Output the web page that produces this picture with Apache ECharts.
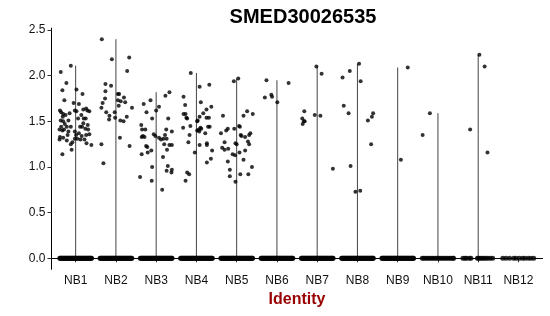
<!DOCTYPE html>
<html>
<head>
<meta charset="utf-8">
<script src="https://cdn.jsdelivr.net/npm/echarts@6/dist/echarts.min.js"></script>
<style>html,body{margin:0;padding:0;background:#fff}#c{width:550px;height:316px}</style>
</head>
<body>
<div id="c"></div>
<script>
const categories = ['NB1','NB2','NB3','NB4','NB5','NB6','NB7','NB8','NB9','NB10','NB11','NB12'];
const yTicks = [0, 0.5, 1.0, 1.5, 2.0, 2.5];

// nonzero expression points per group: [jitter offset, value]
const nb1 = [[-0.12,2.11],[-0.37,2.04],[-0.23,1.92],[-0.33,1.84],[0.02,1.85],[0.17,1.80],[-0.28,1.73],[-0.05,1.70],[0.08,1.69],[-0.39,1.62],[-0.36,1.60],[-0.31,1.58],[-0.25,1.57],[-0.32,1.55],[-0.02,1.62],[0.02,1.61],[0.19,1.63],[0.26,1.64],[0.29,1.62],[0.34,1.61],[0.14,1.57],[0.20,1.53],[0.25,1.53],[0.06,1.53],[-0.37,1.51],[-0.31,1.50],[-0.18,1.51],[-0.36,1.44],[-0.29,1.41],[-0.22,1.44],[-0.40,1.41],[-0.33,1.40],[-0.12,1.44],[-0.18,1.39],[-0.02,1.39],[0.11,1.44],[0.16,1.44],[0.24,1.42],[0.31,1.41],[0.30,1.46],[0.01,1.35],[0.08,1.37],[0.15,1.34],[0.26,1.35],[0.34,1.36],[-0.39,1.33],[-0.40,1.30],[-0.31,1.32],[-0.20,1.35],[-0.22,1.29],[0.04,1.31],[0.12,1.30],[-0.12,1.25],[-0.08,1.27],[0.22,1.30],[0.27,1.26],[0.39,1.24],[-0.33,1.14],[-0.10,1.19],[-0.02,1.31],[-0.15,1.59],[-0.27,1.47],[0.19,1.48]];
const nb2 = [[-0.35,2.40],[-0.10,2.18],[0.33,2.20],[0.28,2.05],[-0.26,1.91],[-0.12,1.89],[-0.26,1.83],[-0.27,1.75],[0.05,1.80],[0.08,1.80],[0.20,1.76],[0.05,1.73],[0.12,1.72],[0.23,1.71],[-0.33,1.70],[-0.36,1.65],[0.40,1.65],[-0.24,1.60],[-0.03,1.60],[0.07,1.67],[-0.16,1.56],[-0.17,1.52],[-0.02,1.54],[0.11,1.51],[0.19,1.50],[0.27,1.55],[0.10,1.32],[0.34,1.23],[-0.36,1.25],[-0.31,1.04]];
const nb3 = [[0.33,1.82],[0.23,1.78],[-0.14,1.73],[-0.31,1.69],[0.07,1.66],[-0.24,1.60],[0.00,1.62],[-0.10,1.53],[0.30,1.53],[-0.37,1.46],[-0.35,1.41],[-0.27,1.41],[-0.33,1.34],[-0.29,1.33],[-0.36,1.33],[-0.06,1.36],[-0.02,1.34],[0.25,1.41],[0.39,1.39],[0.22,1.35],[0.07,1.32],[0.12,1.30],[0.18,1.31],[0.26,1.31],[-0.22,1.22],[-0.25,1.23],[-0.36,1.14],[-0.21,1.16],[-0.12,1.18],[0.20,1.25],[0.27,1.19],[0.33,1.24],[0.39,1.24],[0.17,1.11],[0.29,1.01],[0.39,0.97],[0.38,0.94],[-0.10,1.00],[-0.40,0.89],[-0.11,0.85],[0.15,0.75],[0.26,0.96]];
const nb4 = [[-0.14,2.03],[0.08,1.88],[0.32,1.90],[-0.32,1.77],[0.11,1.71],[-0.28,1.68],[0.37,1.66],[0.25,1.63],[-0.32,1.58],[-0.27,1.58],[-0.23,1.53],[-0.25,1.54],[0.17,1.59],[0.08,1.55],[0.03,1.51],[0.02,1.50],[0.25,1.54],[0.31,1.54],[-0.33,1.43],[-0.15,1.45],[0.10,1.43],[0.12,1.42],[0.06,1.41],[0.02,1.40],[0.07,1.39],[0.29,1.44],[0.33,1.44],[0.22,1.37],[-0.17,1.35],[-0.20,1.27],[0.39,1.18],[0.26,1.24],[0.26,1.26],[0.08,1.24],[-0.04,1.16],[0.36,1.09],[0.26,1.05],[-0.23,0.94],[-0.18,0.92],[-0.27,0.85]];
const nb5 = [[-0.07,1.94],[0.04,1.97],[-0.34,1.56],[0.17,1.56],[0.26,1.61],[0.40,1.58],[-0.39,1.37],[-0.26,1.40],[-0.22,1.42],[-0.06,1.42],[0.06,1.45],[0.08,1.44],[-0.30,1.27],[-0.36,1.21],[-0.30,1.19],[-0.21,1.20],[-0.03,1.26],[0.00,1.25],[0.10,1.35],[0.12,1.34],[0.21,1.33],[0.28,1.28],[0.31,1.25],[0.34,1.37],[0.31,1.35],[0.21,1.18],[0.07,1.16],[-0.10,1.14],[-0.04,1.13],[-0.22,1.06],[0.17,1.08],[0.38,1.00],[-0.17,0.97],[-0.17,0.90],[0.09,0.92],[0.29,0.92],[-0.03,0.84]];
const nb6 = [[-0.26,1.95],[-0.30,1.76],[-0.14,1.79],[-0.12,1.77],[0.01,1.71],[0.29,1.92]];
const nb7 = [[-0.02,2.10],[0.11,2.02],[-0.32,1.61],[-0.37,1.53],[-0.33,1.50],[-0.36,1.47],[-0.31,1.50],[-0.06,1.57],[0.08,1.56],[0.39,0.98]];
const nb8 = [[0.04,2.13],[-0.19,2.05],[-0.37,1.98],[0.08,1.94],[-0.34,1.67],[-0.22,1.59],[0.39,1.59],[0.36,1.55],[0.26,1.51],[0.34,1.25],[-0.17,1.01],[-0.05,0.73],[0.07,0.74]];
const nb9 = [[0.25,2.09],[0.08,1.08]];
const nb10 = [[-0.20,1.59],[-0.38,1.35]];
const nb11 = [[0.03,2.23],[0.16,2.10],[-0.20,1.41],[0.23,1.16]];
const nb12 = [];
const nonzero = [nb1,nb2,nb3,nb4,nb5,nb6,nb7,nb8,nb9,nb10,nb11,nb12];

// jitter offsets of the cells with zero expression
const zeroDense = [-0.395,-0.38,-0.362,-0.351,-0.33,-0.318,-0.297,-0.284,-0.27,-0.248,-0.236,-0.221,-0.2,-0.188,-0.169,-0.152,-0.139,-0.118,-0.104,-0.091,-0.073,-0.058,-0.037,-0.024,-0.009,0.012,0.027,0.041,0.063,0.076,0.094,0.108,0.127,0.141,0.158,0.176,0.19,0.207,0.223,0.242,0.256,0.271,0.29,0.304,0.323,0.337,0.352,0.371,0.385,0.396];
const zeroNB10 = [-0.39,-0.35,-0.31,-0.26,-0.22,-0.17,-0.13,-0.08,-0.04,0.01,0.05,0.1,0.14,0.19,0.23,0.28,0.32,0.37,0.39];
const zeroNB11 = [-0.38,-0.33,-0.29,-0.22,-0.18,-0.02,0.01,0.05,0.1,0.14,0.19,0.24,0.3,0.36];
const zeroNB12 = [-0.39,-0.31,-0.22,-0.12,-0.06,0.02,0.1,0.16,0.24,0.31,0.38];
const zeroOffsets = [zeroDense,zeroDense,zeroDense,zeroDense,zeroDense,zeroDense,zeroDense,zeroDense,zeroDense,zeroNB10,zeroNB11,zeroNB12];

const FONT = 'Liberation Sans, Arial, sans-serif';

const pts = [];
nonzero.forEach((g, i) => g.forEach(p => pts.push([i + 1 + p[0], p[1]])));
const zeros = [];
zeroOffsets.forEach((g, i) => g.forEach(o => zeros.push([i + 1 + o, 0])));

const violinSeries = nonzero.map((g, i) => {
  if (!g.length) return null;
  const mx = Math.max(...g.map(p => p[1]));
  return {
    type: 'line', data: [[i + 1, 0], [i + 1, mx]], symbol: 'none', silent: true,
    lineStyle: { color: '#444', width: 1 }, z: 1, animation: false
  };
}).filter(Boolean);

const chart = echarts.init(document.getElementById('c'), null, { renderer: 'canvas' });
chart.setOption({
  animation: false,
  backgroundColor: '#fff',
  title: {
    text: 'SMED30026535', left: 298, top: 2, textAlign: 'center',
    textStyle: { fontFamily: FONT, fontWeight: 'bold', fontSize: 20, color: '#000' }
  },
  grid: { left: 51.5, right: 7.4, top: 28.2, bottom: 46.7 },
  xAxis: {
    type: 'value', min: 0.4, max: 12.6,
    name: 'Identity', nameLocation: 'middle', nameGap: 19,
    nameTextStyle: { fontFamily: FONT, fontWeight: 'bold', fontSize: 16, color: '#990000' },
    axisLine: { show: true, lineStyle: { color: '#000', width: 1 } },
    axisTick: { show: true, length: 4, lineStyle: { color: '#333' }, customValues: categories.map((c, i) => i + 1) },
    axisLabel: { fontFamily: FONT, fontSize: 12, color: '#111', margin: 5,
      customValues: categories.map((c, i) => i + 1),
      formatter: v => categories[Math.round(v) - 1] },
    splitLine: { show: false }
  },
  yAxis: {
    type: 'value', min: -0.12, max: 2.52,
    axisLine: { show: true, lineStyle: { color: '#000', width: 1 } },
    axisTick: { show: true, length: 4, lineStyle: { color: '#333' }, customValues: yTicks },
    axisLabel: { fontFamily: FONT, fontSize: 12, color: '#111', margin: 6,
      customValues: yTicks, formatter: v => v.toFixed(1) },
    splitLine: { show: false }
  },
  series: [
    ...violinSeries,
    { type: 'scatter', data: zeros, symbolSize: 5, itemStyle: { color: '#000' }, z: 2, silent: true },
    { type: 'scatter', data: pts, symbolSize: 4, itemStyle: { color: '#000' }, z: 3, silent: true }
  ]
});
</script>
</body>
</html>
